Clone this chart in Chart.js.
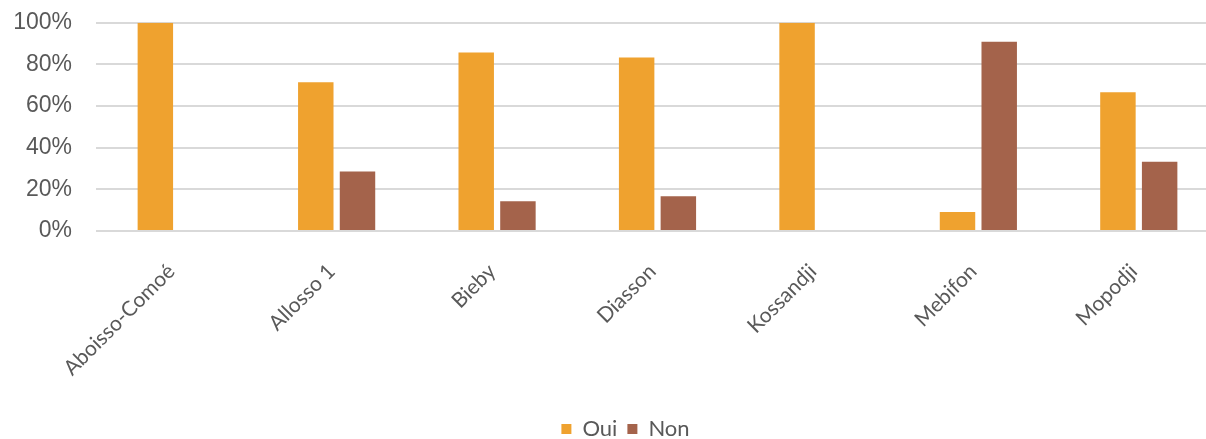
<!DOCTYPE html>
<html>
<head>
<meta charset="utf-8">
<script src="https://cdn.jsdelivr.net/npm/chart.js@4/dist/chart.umd.min.js"></script>
<style>
  html, body { margin: 0; padding: 0; background: #fff; overflow: hidden; }
  #wrap { width: 1219px; height: 465px; position: absolute; left: 0; top: -15px; }
</style>
</head>
<body>
<div id="wrap"><canvas id="chart"></canvas></div>
<script>
// villages surveyed and share of answers per village
const villages = ['Aboisso-Comoé', 'Allosso 1', 'Bieby', 'Diasson', 'Kossandji', 'Mebifon', 'Mopodji'];
const ouiValues = [100, 71.4, 85.7, 83.3, 100, 9.1, 66.7];
const nonValues = [0, 28.6, 14.3, 16.7, 0, 90.9, 33.3];
const yTicks = [0, 20, 40, 60, 80, 100];

const textGrey = '#595959';

// nudge the legend a bit to the right of the canvas centre
const legendShift = {
  id: 'legendShift',
  afterLayout(chart) {
    chart.legend.left += 16;
    chart.legend.right += 16;
  }
};

new Chart(document.getElementById('chart'), {
  type: 'bar',
  data: {
    labels: villages,
    datasets: [
      { label: 'Oui', data: ouiValues, backgroundColor: '#EFA22F' },
      { label: 'Non', data: nonValues, backgroundColor: '#A4634B' }
    ]
  },
  plugins: [legendShift],
  options: {
    responsive: true,
    maintainAspectRatio: false,
    animation: false,
    layout: { padding: 0 },
    datasets: { bar: { categoryPercentage: 0.52, barPercentage: 0.85 } },
    plugins: {
      tooltip: { enabled: false },
      legend: {
        position: 'bottom',
        labels: {
          boxWidth: 10, boxHeight: 10, padding: 10,
          color: textGrey,
          font: { family: 'Lato', size: 22 }
        }
      }
    },
    scales: {
      x: {
        grid: { display: false },
        border: { color: '#d9d9d9' },
        ticks: {
          color: textGrey,
          font: { family: 'Lato', size: 21 },
          minRotation: 45, maxRotation: 45,
          padding: 20,
          labelOffset: -5
        },
        afterFit: s => { s.height = 177; }
      },
      y: {
        min: 0, max: 100,
        afterBuildTicks: s => { s.ticks = yTicks.map(v => ({ value: v })); },
        grid: { color: '#d9d9d9', lineWidth: 2, drawTicks: false },
        border: { display: false },
        ticks: {
          color: textGrey,
          padding: 24,
          font: { family: 'Liberation Sans', size: 23 },
          callback: v => v + '%'
        },
        afterFit: s => { s.width = 96; }
      }
    }
  }
});
</script>
</body>
</html>
